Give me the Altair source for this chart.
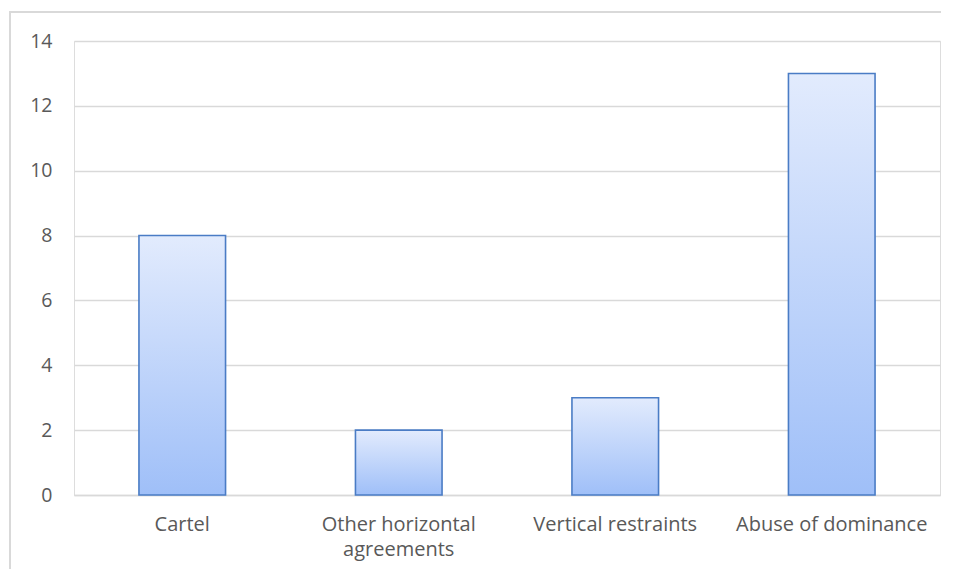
import altair as alt
import pandas as pd

categories = ["Cartel", "Other horizontal agreements", "Vertical restraints", "Abuse of dominance"]
values = [8, 2, 3, 13]

df = pd.DataFrame({"category": categories, "value": values})

gradient = alt.Gradient(
    gradient="linear",
    stops=[alt.GradientStop(color="#e2ebfd", offset=0),
           alt.GradientStop(color="#9fbff8", offset=1)],
    x1=0, x2=0, y1=0, y2=1,
)

bars = alt.Chart(df).mark_bar(
    fill=gradient, stroke="#4a7cc5", strokeWidth=1.6, strokeJoin="miter"
).encode(
    x=alt.X("category:N", sort=categories, title=None,
            scale=alt.Scale(paddingInner=0.6, paddingOuter=0.3),
            axis=alt.Axis(labelAngle=0, labelFont="Open Sans", labelFontSize=20,
                          labelColor="#595959", labelPadding=19, ticks=False,
                          domainColor="#d9d9d9", domainWidth=1.3,
                          labelLineHeight=25, labelLimit=400,
                          labelExpr="datum.label == 'Other horizontal agreements' ? ['Other horizontal', 'agreements'] : datum.label")),
    y=alt.Y("value:Q", title=None,
            scale=alt.Scale(domain=[0, 14]),
            axis=alt.Axis(values=[0, 2, 4, 6, 8, 10, 12, 14], labelFont="Open Sans",
                          labelFontSize=19.5, labelColor="#595959", labelPadding=22,
                          ticks=False, domain=False, gridColor="#d9d9d9", gridWidth=1.3)),
)

frame = alt.Chart(df).mark_rect(
    fill=None, stroke="#d9d9d9", strokeWidth=1.3, clip=False
).encode(
    x=alt.value(-64), x2=alt.value(900), y=alt.value(-29), y2=alt.value(600)
)

chart = alt.layer(frame, bars).properties(
    width=866, height=454,
    autosize=alt.AutoSizeParams(type="none"),
    padding={"left": 66, "top": 33, "right": 1, "bottom": 74},
).configure_view(stroke=None).configure(background="white")

chart.save("out.html", embed_options={"renderer": "svg", "actions": False})
